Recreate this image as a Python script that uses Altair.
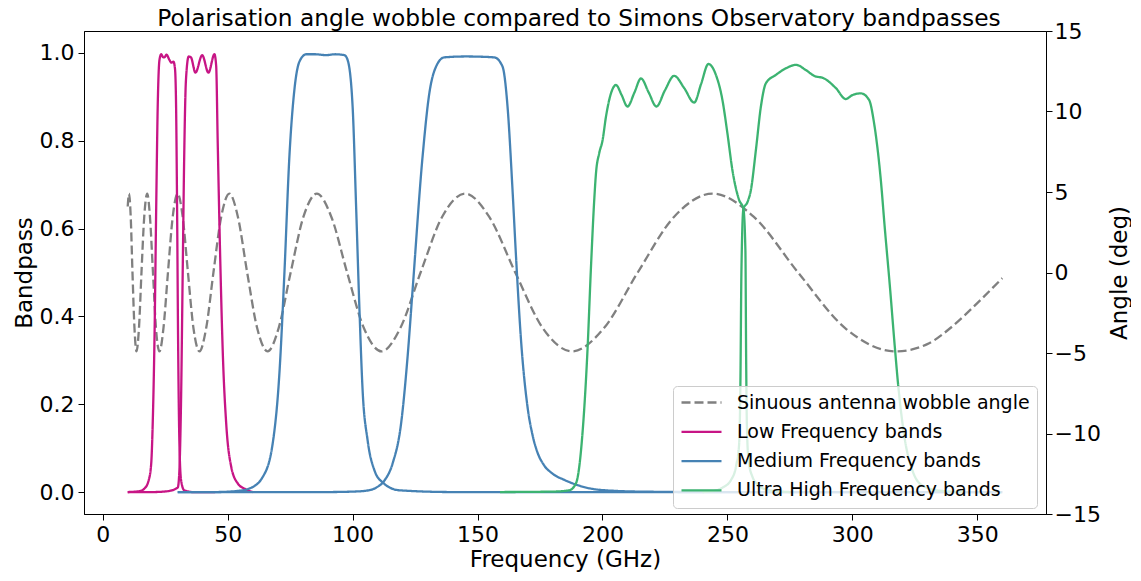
import altair as alt
import pandas as pd

# ---------------- data ----------------
wobble_freq = [10.0, 10.5, 11.2, 11.9, 12.7, 13.5, 14.5, 15.5, 16.6, 17.8, 18.9, 20.1, 21.3, 22.7,
               24.3, 26.1, 28.0, 30.0, 32.0, 34.1, 36.3, 38.7, 41.4, 44.3, 47.4, 50.7, 54.1, 57.8,
               61.8, 66.0, 70.4, 75.2, 80.3, 85.7, 91.5, 97.8, 104.5, 111.6, 119.1, 127.2, 135.8,
               145.0, 154.7, 165.1, 176.1, 187.8, 200.6, 214.1, 228.6, 244.1, 260.6, 278.3, 297.1,
               317.3, 330.0, 340.0, 350.0, 360.0]
wobble_angle = [4.1, 4.9,
                3.45, 0.0, -3.45, -4.9,
                -3.45, 0.0, 3.45, 4.9,
                3.45, 0.0, -3.45, -4.9,
                -3.45, 0.0, 3.45, 4.9,
                3.45, 0.0, -3.45, -4.9,
                -3.45, 0.0, 3.45, 4.9,
                3.45, 0.0, -3.45, -4.9,
                -3.45, 0.0, 3.45, 4.9,
                3.45, 0.0, -3.45, -4.9,
                -3.45, 0.0, 3.45, 4.9,
                3.45, 0.0, -3.45, -4.9,
                -3.45, 0.0, 3.45, 4.9,
                3.45, 0.0, -3.45, -4.9,
                -4.45, -3.35, -1.9, -0.35]

lf1_freq = [10.0, 14.7, 16.7, 18.4, 19.4, 20.0, 20.7, 21.4, 22.0, 22.7, 23.4, 24.2, 24.7, 25.5,
            26.7, 27.4, 28.3, 28.9, 29.35, 29.75, 30.15, 30.65, 31.35, 32.6, 36.0, 45.0]
lf1_bp = [0.0, 0.002, 0.008, 0.027, 0.065, 0.156, 0.346, 0.65, 0.878, 0.984, 0.997, 0.99, 0.99,
          0.996, 0.984, 0.978, 0.98, 0.965, 0.88, 0.65, 0.35, 0.12, 0.027, 0.004, 0.0, 0.0]

lf2_freq = [10.0, 20.0, 26.0, 30.0, 30.6, 31.3, 32.0, 32.6, 33.3, 34.4, 35.3, 37.1, 39.8, 42.3,
            44.7, 45.4, 46.0, 47.0, 48.1, 49.4, 51.4, 54.0, 57.3, 60.0]
lf2_bp = [0.0, 0.0, 0.002, 0.01, 0.04, 0.194, 0.5, 0.764, 0.938, 0.992, 0.99, 0.955, 0.995, 0.955,
          0.997, 0.97, 0.80, 0.536, 0.308, 0.157, 0.058, 0.02, 0.006, 0.0]

mf1_freq = [30.0, 45.0, 54.7, 58.7, 64.1, 68.0, 70.7, 72.7, 74.7, 76.7, 78.7, 81.4, 85.0, 89.4,
            93.0, 96.7, 98.0, 100.0, 101.4, 102.7, 104.0, 106.0, 108.7, 112.0, 118.7, 140.0, 360.0]
mf1_bp = [0.0, 0.0, 0.003, 0.008, 0.035, 0.11, 0.27, 0.498, 0.764, 0.916, 0.98, 0.997, 0.997,
          0.995, 0.997, 0.995, 0.984, 0.878, 0.65, 0.422, 0.232, 0.118, 0.05, 0.022, 0.004, 0.0, 0.0]

mf2_freq = [30.0, 90.0, 100.0, 105.4, 109.4, 112.7, 116.0, 119.4, 122.0, 124.0, 128.0, 130.7,
            133.4, 136.7, 145.4, 156.7, 160.0, 162.0, 164.0, 165.4, 167.4, 170.0, 172.0, 174.0,
            176.5, 180.0, 185.0, 191.0, 199.0, 215.0, 240.0, 360.0]
mf2_bp = [0.0, 0.0, 0.001, 0.003, 0.01, 0.026, 0.065, 0.156, 0.308, 0.46, 0.764, 0.908, 0.969,
          0.99, 0.992, 0.99, 0.969, 0.878, 0.688, 0.536, 0.346, 0.194, 0.13, 0.09, 0.062, 0.042,
          0.027, 0.014, 0.005, 0.001, 0.0, 0.0]

uhf1_freq = [159.0, 180.0, 186.7, 189.4, 192.0, 194.0, 195.4, 196.7, 197.4, 198.7, 200.0, 201.4,
             203.4, 205.4, 207.6, 210.0, 212.8, 215.4, 218.5, 221.6, 225.0, 228.7, 232.7, 236.7,
             239.5, 242.4, 245.4, 248.0, 250.0, 252.0, 254.7, 256.4, 257.2, 257.5, 257.8, 258.5,
             260.0, 262.5, 266.0, 272.0, 275.0]
uhf1_bp = [0.0, 0.001, 0.004, 0.02, 0.134, 0.323, 0.513, 0.665, 0.726, 0.772, 0.80, 0.855, 0.908,
           0.927, 0.905, 0.878, 0.91, 0.942, 0.91, 0.878, 0.915, 0.948, 0.92, 0.887, 0.93, 0.975,
           0.95, 0.893, 0.817, 0.733, 0.665, 0.645, 0.55, 0.3, 0.15, 0.07, 0.035, 0.015, 0.005,
           0.001, 0.0]

uhf2_freq = [240.0, 245.0, 248.0, 251.4, 253.5, 254.7, 255.2, 255.6, 256.4, 258.0, 259.4, 261.4,
             263.4, 265.4, 269.4, 273.4, 277.4, 281.4, 284.7, 288.7, 293.4, 297.4, 300.0, 303.4,
             306.7, 308.7, 311.4, 313.0, 315.0, 317.0, 318.4, 321.0, 324.0, 328.0, 335.0, 345.0]
uhf2_bp = [0.0, 0.003, 0.01, 0.027, 0.06, 0.11, 0.25, 0.5, 0.645, 0.66, 0.688, 0.779, 0.878,
           0.931, 0.95, 0.965, 0.973, 0.961, 0.948, 0.942, 0.92, 0.895, 0.904, 0.908, 0.893, 0.84,
           0.71, 0.60, 0.47, 0.33, 0.24, 0.12, 0.05, 0.015, 0.003, 0.0]

x_ticks = [0, 50, 100, 150, 200, 250, 300, 350]
bp_ticks = [0.0, 0.2, 0.4, 0.6, 0.8, 1.0]
angle_ticks = [-15, -10, -5, 0, 5, 10, 15]

S_W = "Sinuous antenna wobble angle"
S_LF = "Low Frequency bands"
S_MF = "Medium Frequency bands"
S_UHF = "Ultra High Frequency bands"
series_names = [S_W, S_LF, S_MF, S_UHF]
series_colors = ["#808080", "#c71585", "#4682b4", "#3cb371"]
series_dashes = [[9, 4], [1, 0], [1, 0], [1, 0]]

# ---------------- tables ----------------
wobble_df = pd.DataFrame({"freq": wobble_freq, "angle": wobble_angle,
                          "series": S_W, "band": "wobble"})
band_specs = [("LF1", S_LF, lf1_freq, lf1_bp), ("LF2", S_LF, lf2_freq, lf2_bp),
              ("MF1", S_MF, mf1_freq, mf1_bp), ("MF2", S_MF, mf2_freq, mf2_bp),
              ("UHF1", S_UHF, uhf1_freq, uhf1_bp), ("UHF2", S_UHF, uhf2_freq, uhf2_bp)]
band_df = pd.concat([pd.DataFrame({"freq": f, "bp": b, "series": s, "band": n})
                     for n, s, f, b in band_specs], ignore_index=True)

FONT = "DejaVu Sans"
legend_kw = dict(title=None, orient="none", legendX=589, legendY=355,
                 fillColor="rgba(255,255,255,0.8)", strokeColor="#cccccc", cornerRadius=4,
                 padding=7, labelFont=FONT, labelFontSize=19, labelColor="black", labelLimit=500,
                 symbolType="stroke", symbolSize=1600, symbolStrokeWidth=2.3, clipHeight=19,
                 rowPadding=9.3, labelOffset=14)

x_enc = alt.X("freq:Q", scale=alt.Scale(domain=[-7.5, 377.5], nice=False, zero=False),
              axis=alt.Axis(values=x_ticks, title="Frequency (GHz)", labelPadding=4,
                            titleBaseline="alphabetic", titleY=52))
color_enc = alt.Color("series:N", scale=alt.Scale(domain=series_names, range=series_colors),
                      legend=alt.Legend(**legend_kw))
dash_enc = alt.StrokeDash("series:N", scale=alt.Scale(domain=series_names, range=series_dashes),
                          legend=alt.Legend(**legend_kw))

angle_layer = alt.Chart(wobble_df).mark_line(strokeWidth=2.3, interpolate="monotone").encode(
    x=x_enc,
    y=alt.Y("angle:Q", scale=alt.Scale(domain=[-15, 15], nice=False, zero=False),
            axis=alt.Axis(orient="right", values=angle_ticks, format="d", title="Angle (deg)",
                          labelPadding=2, titleAngle=270, titleBaseline="alphabetic",
                          titleAlign="center", titleX=80, titleY=241.5)),
    color=color_enc, strokeDash=dash_enc, detail="band:N")

band_layer = alt.Chart(band_df).mark_line(strokeWidth=2.3, interpolate="monotone").encode(
    x=x_enc,
    y=alt.Y("bp:Q", scale=alt.Scale(domain=[-0.05, 1.05], nice=False, zero=False),
            axis=alt.Axis(orient="left", values=bp_ticks, format=".1f", title="Bandpass",
                          labelPadding=4, titleAngle=270, titleBaseline="alphabetic",
                          titleAlign="center", titleX=-53, titleY=241.5)),
    color=color_enc, strokeDash=dash_enc, detail="band:N")

chart = alt.layer(angle_layer, band_layer).resolve_scale(y="independent").properties(
    width=962, height=483,
    title=alt.TitleParams("Polarisation angle wobble compared to Simons Observatory bandpasses",
                          frame="group", anchor="middle", offset=-11, dx=14,
                          fontSize=23.3, font=FONT, fontWeight="normal", color="black"),
    autosize=alt.AutoSizeParams(type="none"),
    padding={"left": 76, "top": 23, "right": 85, "bottom": 58},
).configure_axis(
    labelFont=FONT, titleFont=FONT, labelFontSize=22, titleFontSize=23, labelColor="black",
    titleColor="black", titleFontWeight="normal", grid=False, domainColor="black",
    tickColor="black", tickSize=6, domainWidth=1, tickWidth=1,
).configure_view(stroke="black", strokeWidth=1)

chart.save("out.html", embed_options={"renderer": "svg", "actions": False})
